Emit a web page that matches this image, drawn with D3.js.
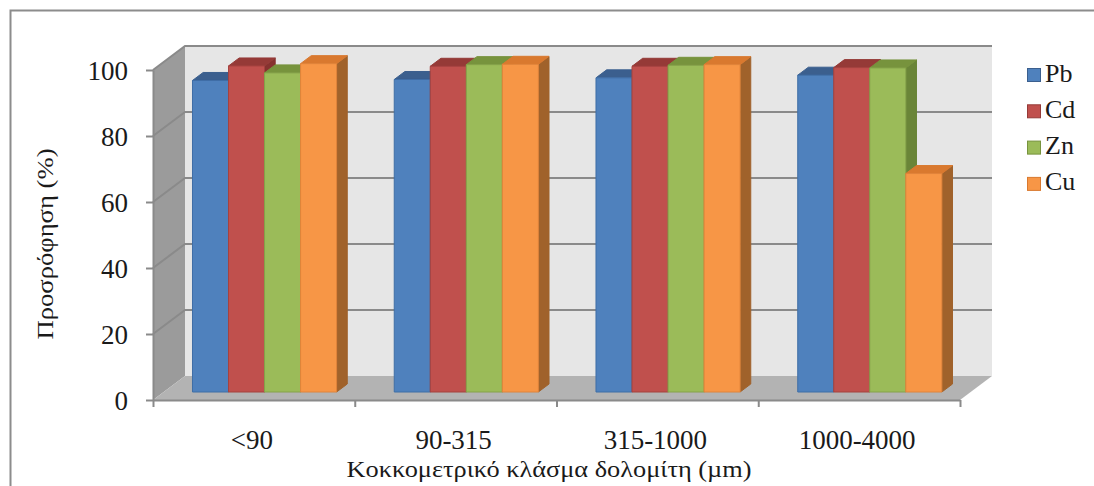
<!DOCTYPE html>
<html>
<head>
<meta charset="utf-8">
<script src="https://cdn.jsdelivr.net/npm/d3@7/dist/d3.min.js"></script>
<style>
  html, body { margin: 0; padding: 0; background: #fff; }
  svg { display: block; }
  text { font-family: "Liberation Serif", "Times New Roman", serif; fill: #1a1a1a; }
</style>
</head>
<body>
<svg id="chart" width="1094" height="486"></svg>
<script>
// Particle-size fractions of dolomite (µm)
const categories = ["<90", "90-315", "315-1000", "1000-4000"];
// Metals
const series = ["Pb", "Cd", "Zn", "Cu"];
// Sorption (%) for each metal, one value per fraction
const pbValues = [94.4, 94.7, 95.2, 96.0];
const cdValues = [98.8, 98.7, 98.7, 98.3];
const znValues = [96.7, 99.2, 99.0, 98.2];
const cuValues = [99.5, 99.3, 99.2, 66.2];
const yTicks = [0, 20, 40, 60, 80, 100];

const yTitle = "Προσρόφηση (%)";
const xTitle = "Κοκκομετρικό κλάσμα δολομίτη (µm)";

const values = { Pb: pbValues, Cd: cdValues, Zn: znValues, Cu: cuValues };

// Face colours for each metal: front, top, side
const palette = {
  Pb: { front: "#4f81bd", top: "#3b5f8e", side: "#34557f", edge: "#3f6ea6" },
  Cd: { front: "#c0504d", top: "#953a37", side: "#86322f", edge: "#a5423f" },
  Zn: { front: "#9bbb59", top: "#77933d", side: "#6a8538", edge: "#85a24a" },
  Cu: { front: "#f79646", top: "#d9792f", side: "#a0622b", edge: "#e0843a" }
};

const svg = d3.select("#chart");

// Outer chart frame
svg.append("rect")
  .attr("x", 10.5).attr("y", 10.5)
  .attr("width", 1100).attr("height", 500)
  .attr("fill", "none").attr("stroke", "#8c8c8c").attr("stroke-width", 2);

// Front plane of the plot and the oblique depth offset
const plotLeft = 153, plotRight = 960, plotBottom = 400, plotTop = 70;
const DX = 32, DY = -24;

const y = d3.scaleLinear().domain([0, 100]).range([plotBottom, plotTop]);
const x = d3.scaleBand().domain(categories).range([plotLeft, plotRight]).padding(0);
const xs = d3.scaleBand().domain(series).range([0, x.bandwidth()])
  .paddingInner(0).paddingOuter(0.8);

const P = (px, v, f) => [px + DX * f, y(v) + DY * f];
const poly = pts => "M" + pts.map(p => p.join(",")).join("L") + "Z";

const g = svg.append("g");

// Back wall
g.append("path")
  .attr("d", poly([P(plotLeft, 100, 1), P(plotRight, 100, 1), P(plotRight, 0, 1), P(plotLeft, 0, 1)]))
  .attr("fill", "#e6e6e6");

// Side wall
g.append("path")
  .attr("d", poly([P(plotLeft, 100, 0), P(plotLeft, 100, 1), P(plotLeft, 0, 1), P(plotLeft, 0, 0)]))
  .attr("fill", "#9b9b9b");

// Floor
g.append("path")
  .attr("d", poly([P(plotLeft, 0, 0), P(plotRight, 0, 0), P(plotRight, 0, 1), P(plotLeft, 0, 1)]))
  .attr("fill", "#b3b3b3");

// Gridlines across the side wall and the back wall
const grid = g.append("g").attr("fill", "none").attr("stroke", "#8a8a8a").attr("stroke-width", 2);
yTicks.filter(v => v > 0).forEach(v => {
  grid.append("path").attr("d", "M" + [P(plotLeft, v, 0), P(plotLeft, v, 1), P(plotRight, v, 1)].map(p => p.join(",")).join("L"));
});

// Y axis
const yAxis = d3.axisLeft(y).tickValues(yTicks).tickSize(7).tickSizeOuter(0).tickPadding(18);
const ya = svg.append("g").attr("transform", `translate(${plotLeft},0)`).call(yAxis);
ya.attr("font-family", null);
ya.select(".domain").attr("stroke", "#8a8a8a").attr("stroke-width", 2);
ya.selectAll(".tick line").attr("stroke", "#8a8a8a").attr("stroke-width", 2);
ya.selectAll(".tick text").attr("font-size", 27).attr("dy", "0.34em");

// X axis: boundary ticks
const xb = d3.scaleLinear().domain([0, categories.length]).range([plotLeft, plotRight]);
const xAxis = d3.axisBottom(xb).ticks(categories.length).tickSize(7).tickSizeOuter(0).tickFormat("");
const xa = svg.append("g").attr("transform", `translate(0,${plotBottom})`).call(xAxis);
xa.select(".domain").attr("stroke", "#8a8a8a").attr("stroke-width", 2);
xa.selectAll(".tick line").attr("stroke", "#8a8a8a").attr("stroke-width", 2);

// X axis: category labels
const xl = svg.append("g").attr("transform", `translate(-2,${plotBottom})`)
  .call(d3.axisBottom(x).tickSize(0).tickPadding(30));
xl.attr("font-family", null);
xl.select(".domain").remove();
xl.selectAll(".tick text").attr("font-size", 27);

// Bars: front, top and side faces, drawn left to right so neighbours overlap correctly
const f0 = 1 / 3, f1 = 2 / 3;
const bars = g.append("g");
categories.forEach((c, ci) => {
  series.forEach(s => {
    const v = values[s][ci];
    const x0 = x(c) + xs(s), x1 = x0 + xs.bandwidth();
    const col = palette[s];
    const b = bars.append("g").attr("stroke-width", 1).attr("stroke-linejoin", "round");
    b.append("path")
      .attr("d", poly([P(x1, 0, f0), P(x1, 0, f1), P(x1, v, f1), P(x1, v, f0)]))
      .attr("fill", col.side).attr("stroke", col.side);
    b.append("path")
      .attr("d", poly([P(x0, v, f0), P(x1, v, f0), P(x1, v, f1), P(x0, v, f1)]))
      .attr("fill", col.top).attr("stroke", col.top);
    b.append("path")
      .attr("d", poly([P(x0, 0, f0), P(x1, 0, f0), P(x1, v, f0), P(x0, v, f0)]))
      .attr("fill", col.front).attr("stroke", col.edge);
  });
});

// Legend
const legend = svg.append("g").attr("transform", "translate(1027,68)");
series.forEach((s, i) => {
  const row = legend.append("g").attr("transform", `translate(0,${i * 36.3})`);
  row.append("rect").attr("x", 0.5).attr("y", 0.5).attr("width", 13).attr("height", 13)
    .attr("fill", palette[s].front).attr("stroke", palette[s].top).attr("stroke-width", 1);
  row.append("text").attr("x", 18).attr("y", 13.5).attr("font-size", 26).text(s);
});

// Axis titles
svg.append("text")
  .attr("transform", "translate(53,244) rotate(-90)")
  .attr("text-anchor", "middle").attr("font-size", 23)
  .attr("textLength", 191).attr("lengthAdjust", "spacingAndGlyphs")
  .text(yTitle);

svg.append("text")
  .attr("x", 549).attr("y", 477)
  .attr("text-anchor", "middle").attr("font-size", 24)
  .attr("textLength", 405).attr("lengthAdjust", "spacingAndGlyphs")
  .text(xTitle);
</script>
</body>
</html>
